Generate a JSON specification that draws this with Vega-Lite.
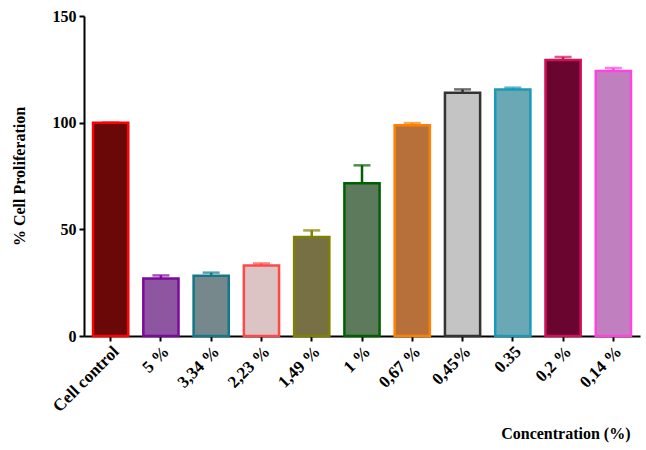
{
  "$schema": "https://vega.github.io/schema/vega-lite/v6.json",
  "width": 556,
  "height": 320,
  "autosize": {"type": "none"},
  "padding": {"left": 84, "top": 16, "right": 6, "bottom": 114},
  "background": "white",
  "config": {
    "view": {"stroke": null},
    "font": "Liberation Serif"
  },
  "data": {
    "values": [
      {"cat": "Cell control", "value": 100, "err": 100},
      {"cat": "5 %", "value": 27, "err": 28.4},
      {"cat": "3,34 %", "value": 28.3, "err": 29.7},
      {"cat": "2,23 %", "value": 33, "err": 34},
      {"cat": "1,49 %", "value": 46.4, "err": 49.5},
      {"cat": "1 %", "value": 71.6, "err": 80},
      {"cat": "0,67 %", "value": 98.8, "err": 99.8},
      {"cat": "0,45%", "value": 114, "err": 115.6},
      {"cat": "0.35", "value": 115.6, "err": 116.4},
      {"cat": "0,2 %", "value": 129.4, "err": 130.8},
      {"cat": "0,14 %", "value": 124.2, "err": 125.6}
    ]
  },
  "encoding": {
    "x": {
      "field": "cat",
      "type": "nominal",
      "sort": null,
      "scale": {"paddingInner": 0.3, "paddingOuter": 0.18},
      "axis": {
        "title": "Concentration (%)",
        "titleFont": "Liberation Serif",
        "titleFontWeight": "bold",
        "titleFontSize": 16,
        "titleAnchor": "end",
        "titleAlign": "right",
        "titleX": 546,
        "titleY": 102,
        "titleBaseline": "alphabetic",
        "labelAngle": -45,
        "labelFont": "Liberation Serif",
        "labelFontWeight": "bold",
        "labelFontSize": 17,
        "labelColor": "black",
        "labelPadding": 2,
        "domainColor": "black",
        "domainWidth": 2,
        "tickColor": "black",
        "tickWidth": 2,
        "tickSize": 5,
        "grid": false
      }
    }
  },
  "layer": [
    {
      "mark": {"type": "rule", "strokeWidth": 2.5},
      "encoding": {
        "y": {"field": "value", "type": "quantitative"},
        "y2": {"field": "err"},
        "color": {"field": "cat", "type": "nominal", "sort": null, "legend": null,
          "scale": {
            "domain": ["Cell control", "5 %", "3,34 %", "2,23 %", "1,49 %", "1 %", "0,67 %", "0,45%", "0.35", "0,2 %", "0,14 %"],
            "range": ["#ff0000", "#7b0a9a", "#12788a", "#ff4848", "#808000", "#006000", "#ff8000", "#333333", "#1a9ab8", "#d0105a", "#ff44dd"]
          }
        }
      }
    },
    {
      "mark": {"type": "tick", "size": 17, "thickness": 2.5},
      "encoding": {
        "y": {"field": "err", "type": "quantitative"},
        "color": {"field": "cat", "type": "nominal", "sort": null, "legend": null}
      }
    },
    {
      "mark": {"type": "bar", "strokeWidth": 2.5},
      "encoding": {
        "y": {
          "field": "value",
          "type": "quantitative",
          "scale": {"domain": [0, 150], "nice": false},
          "axis": {
            "title": "% Cell Proliferation",
            "titleFont": "Liberation Serif",
            "titleFontWeight": "bold",
            "titleFontSize": 16,
            "titleX": -57,
            "titleY": 160,
            "titleAngle": -90,
            "titleBaseline": "bottom",
            "titleAlign": "center",
            "values": [0, 50, 100, 150],
            "labelFont": "Liberation Serif",
            "labelFontWeight": "bold",
            "labelFontSize": 16,
            "labelColor": "black",
            "labelPadding": 3,
            "domainColor": "black",
            "domainWidth": 2,
            "tickColor": "black",
            "tickWidth": 2,
            "tickSize": 5,
            "grid": false
          }
        },
        "fill": {"field": "cat", "type": "nominal", "sort": null, "legend": null,
          "scale": {
            "domain": ["Cell control", "5 %", "3,34 %", "2,23 %", "1,49 %", "1 %", "0,67 %", "0,45%", "0.35", "0,2 %", "0,14 %"],
            "range": ["#6a0808", "#8e55a0", "#76888c", "#dcc4c4", "#767044", "#5d7a5d", "#b8703a", "#c4c4c4", "#6aa8b5", "#6a0530", "#c080c0"]
          }
        },
        "stroke": {"field": "cat", "type": "nominal", "sort": null, "legend": null,
          "scale": {
            "domain": ["Cell control", "5 %", "3,34 %", "2,23 %", "1,49 %", "1 %", "0,67 %", "0,45%", "0.35", "0,2 %", "0,14 %"],
            "range": ["#ff0000", "#7b0a9a", "#12788a", "#ff4848", "#808000", "#006000", "#ff8000", "#333333", "#1a9ab8", "#d0105a", "#ff44dd"]
          }
        }
      }
    }
  ]
}
